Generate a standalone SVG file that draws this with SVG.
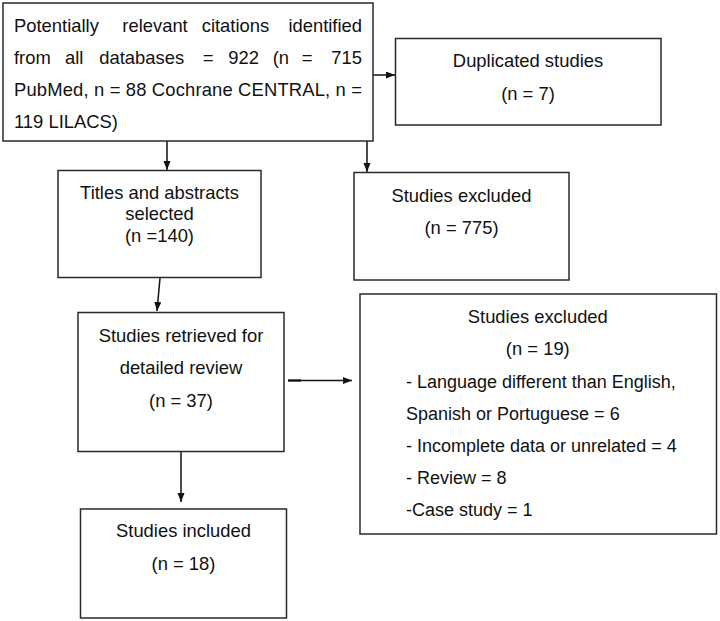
<svg xmlns="http://www.w3.org/2000/svg" width="720" height="621" viewBox="0 0 720 621">
  <style>
    .box { fill: #ffffff; stroke: #2a2a2a; stroke-width: 1.5; }
    .t { font-family: "Liberation Sans", Arial, sans-serif; font-size: 18.4px; fill: #111111; }
    .l { font-size: 18px; }
    .c { text-anchor: middle; }
    .e { text-anchor: end; }
    .conn { stroke: #111111; stroke-width: 1.5; fill: none; marker-end: url(#arrow); }
  </style>
  <defs>
    <marker id="arrow" markerUnits="userSpaceOnUse" markerWidth="10" markerHeight="8" refX="9" refY="3.5" orient="auto">
      <path d="M0,0 L9,3.5 L0,7 z" fill="#111111"/>
    </marker>
  </defs>
  <rect width="720" height="621" fill="#ffffff"/>

  <g id="connectors">
    <line class="conn" x1="373" y1="75" x2="395" y2="75"/>
    <line class="conn" x1="167" y1="141" x2="167" y2="170"/>
    <line class="conn" x1="367" y1="141" x2="367" y2="172"/>
    <line class="conn" x1="160" y1="278" x2="157" y2="311"/>
    <line class="conn" x1="181" y1="452" x2="181" y2="502"/>
    <line class="conn" x1="288" y1="380.5" x2="352" y2="380.5"/>
    <line x1="288" y1="380.5" x2="301" y2="380.5" stroke="#111111" stroke-width="2.2"/>
  </g>

  <g id="identified">
    <rect class="box" x="3" y="3" width="370" height="138"/>
    <text class="t" x="14" y="32">Potentially</text>
    <text class="t" x="122.3" y="32">relevant</text>
    <text class="t" x="201.7" y="32">citations</text>
    <text class="t e" x="362" y="32">identified</text>
    <text class="t" x="14" y="64">from</text>
    <text class="t" x="65" y="64">all</text>
    <text class="t" x="99.3" y="64">databases</text>
    <text class="t" x="202.7" y="64">=</text>
    <text class="t" x="228.3" y="64">922</text>
    <text class="t" x="272.7" y="64">(n</text>
    <text class="t" x="301.7" y="64">=</text>
    <text class="t e" x="362" y="64">715</text>
    <text class="t" x="14" y="96" textLength="348" lengthAdjust="spacing">PubMed, n = 88 Cochrane CENTRAL, n =</text>
    <text class="t" x="14" y="128">119 LILACS)</text>
  </g>

  <g id="duplicated">
    <rect class="box" x="395.5" y="38.5" width="265.5" height="86.5"/>
    <text class="t c" x="528" y="67">Duplicated studies</text>
    <text class="t c" x="528" y="100">(n = 7)</text>
  </g>

  <g id="titles">
    <rect class="box" x="58" y="170.5" width="203" height="107"/>
    <text class="t c" x="159.5" y="199">Titles and abstracts</text>
    <text class="t c" x="159.5" y="220">selected</text>
    <text class="t c" x="159.5" y="242">(n =140)</text>
  </g>

  <g id="excluded775">
    <rect class="box" x="354" y="172.5" width="215" height="107.5"/>
    <text class="t c" x="461.5" y="202">Studies excluded</text>
    <text class="t c" x="461.5" y="234">(n = 775)</text>
  </g>

  <g id="retrieved">
    <rect class="box" x="78" y="312.5" width="206" height="139"/>
    <text class="t c" x="181" y="342">Studies retrieved for</text>
    <text class="t c" x="181" y="374">detailed review</text>
    <text class="t c" x="181" y="407">(n = 37)</text>
  </g>

  <g id="excluded19">
    <rect class="box" x="360" y="294" width="356.5" height="240"/>
    <text class="t c" x="537.8" y="323">Studies excluded</text>
    <text class="t c" x="537.8" y="355">(n = 19)</text>
    <text class="t l" x="406" y="388">- Language different than English,</text>
    <text class="t l" x="406" y="420">Spanish or Portuguese = 6</text>
    <text class="t l" x="406" y="452">- Incomplete data or unrelated = 4</text>
    <text class="t l" x="406" y="484">- Review = 8</text>
    <text class="t l" x="406" y="516">-Case study = 1</text>
  </g>

  <g id="included">
    <rect class="box" x="80.5" y="509" width="206" height="109"/>
    <text class="t c" x="183.5" y="537">Studies included</text>
    <text class="t c" x="183.5" y="570">(n = 18)</text>
  </g>
</svg>
